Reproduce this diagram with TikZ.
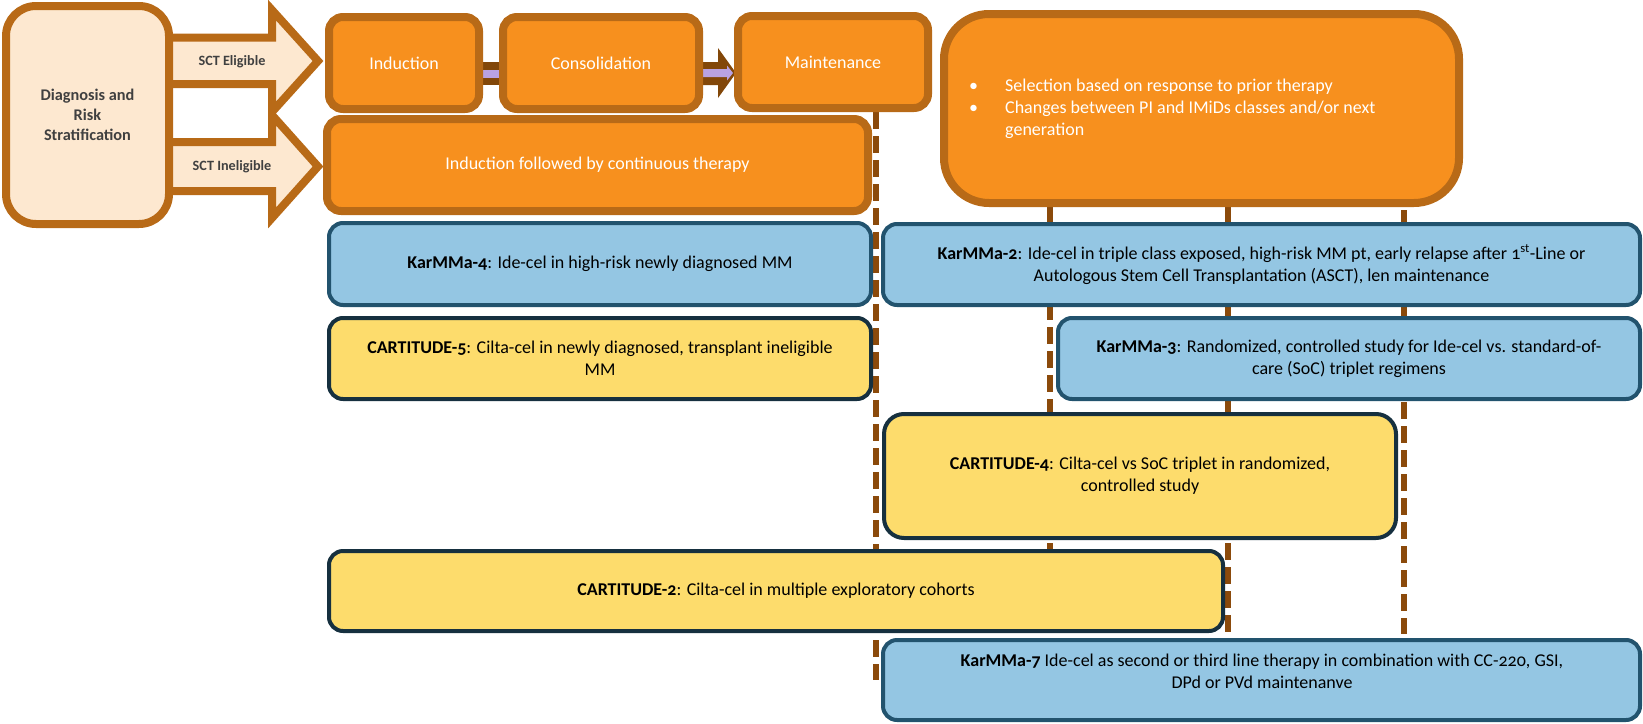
\documentclass[tikz,border=0pt]{standalone}
\usepackage{fontspec}
\setmainfont{Carlito}[Numbers=OldStyle]
\usetikzlibrary{calc}
\pgfdeclarelayer{bg}
\pgfsetlayers{bg,main}
\definecolor{orfill}{HTML}{F7901E}
\definecolor{orline}{HTML}{B86A17}
\definecolor{peach}{HTML}{FDE8D0}
\definecolor{bluefill}{HTML}{94C6E3}
\definecolor{blueline}{HTML}{22536E}
\definecolor{yelfill}{HTML}{FDDC6C}
\definecolor{yelline}{HTML}{16303F}
\definecolor{dashbrown}{HTML}{8B4A0B}
\definecolor{bandbrown}{HTML}{824709}
\definecolor{lilac}{HTML}{B9A2E2}
\definecolor{darktext}{HTML}{404040}
\begin{document}
\begin{tikzpicture}[x=1pt,y=-1pt,
  orbox/.style={draw=orline, fill=orfill, line width=8pt, rounded corners=14pt,
    text=white, font=\fontsize{18}{22}\selectfont, inner sep=0pt, align=center},
  bluebox/.style={draw=blueline, fill=bluefill, line width=4pt, rounded corners=14pt,
    text=black, font=\fontsize{18}{22}\selectfont, inner sep=0pt, align=center},
  yelbox/.style={draw=yelline, fill=yelfill, line width=4pt, rounded corners=14pt,
    text=black, font=\fontsize{18}{22}\selectfont, inner sep=0pt, align=center},
  plaintext/.style={inner sep=0pt, font=\fontsize{18}{22}\selectfont},
  dline/.style={draw=dashbrown, line width=5.5pt, dash pattern=on 17pt off 7pt},
  blockarrow/.style={draw=orline, fill=peach, line width=8pt, line join=miter},
  sctlabel/.style={inner sep=0pt, text=darktext, font=\bfseries\fontsize{14.2}{17}\selectfont}
]
\useasboundingbox (0,0) rectangle (1643,723);

% ---- left part
\node[draw=orline, fill=peach, line width=8pt, rounded corners=30pt,
  minimum width=163pt, minimum height=218pt, inner sep=0pt, align=center,
  text=darktext, font=\bfseries\fontsize{16.3}{20}\selectfont] (diag) at (87.5,115)
  {Diagnosis and\\Risk\\Stratification};

\node[sctlabel] (sct1) at (232,62) {SCT Eligible};
\node[sctlabel] (sct2) at (232,167) {SCT Ineligible};

% ---- orange phase boxes
\node[orbox, minimum width=150pt, minimum height=92pt] (ind) at (404,63) {Induction};
\node[orbox, minimum width=196pt, minimum height=92pt] (con) at (601,63) {Consolidation};
\node[orbox, minimum width=190pt, minimum height=92pt] (mai) at (833,62) {Maintenance};
\node[orbox, minimum width=541pt, minimum height=92pt] (cont) at (597.5,165)
  {Induction followed by continuous therapy};
\node[orbox, rounded corners=45pt, minimum width=515pt, minimum height=189pt] (big) at (1201.5,108.5) {};
\node[inner sep=0pt, anchor=west, align=left, text=white,
  font=\fontsize{18}{22}\selectfont] (bul) at (969,109)
  {\makebox[36pt][l]{\textbullet}Selection based on response to prior therapy\\
   \makebox[36pt][l]{\textbullet}Changes between PI and IMiDs classes and/or next\\
   \hspace*{36pt}generation};

% ---- trial boxes
\node[bluebox, minimum width=542pt, minimum height=82pt] (k4) at (600,264)
  {\textbf{KarMMa-4}: Ide-cel in high-risk newly diagnosed MM};
\node[bluebox, minimum width=757pt, minimum height=81pt] (k2) at (1261.5,264.5)
  {\textbf{KarMMa-2}: Ide-cel in triple class exposed, high-risk MM pt, early relapse after 1\textsuperscript{st}-Line or\\
   Autologous Stem Cell Transplantation (ASCT), len maintenance};
\node[yelbox, minimum width=542pt, minimum height=81pt] (c5) at (600,358.5)
  {\textbf{CARTITUDE-5}: Cilta-cel in newly diagnosed, transplant ineligible\\MM};
\node[bluebox, minimum width=582pt, minimum height=81pt] (k3) at (1349,358.5)
  {\textbf{KarMMa-3}: Randomized, controlled study for Ide-cel vs. standard-of-\\care (SoC) triplet regimens};
\node[yelbox, rounded corners=20pt, minimum width=512pt, minimum height=124pt] (c4) at (1140,476)
  {\textbf{CARTITUDE-4}: Cilta-cel vs SoC triplet in randomized,\\controlled study};
\node[yelbox, minimum width=894pt, minimum height=80pt] (c2) at (776,591)
  {\textbf{CARTITUDE-2}: Cilta-cel in multiple exploratory cohorts};
\node[bluebox, minimum width=757pt, minimum height=80pt] (k7) at (1261.5,680) {};
\node[plaintext, align=center] (k7t) at (1262,671.5)
  {\textbf{KarMMa-7} Ide-cel as second or third line therapy in combination with CC-220, GSI,\\DPd or PVd maintenanve};

% ---- background: block arrows, connectors and dashed lines
\begin{pgfonlayer}{bg}
  \draw[blockarrow] (160,37.5) -- (272,37.5) -- (272,10) -- (318,61) -- (272,112) -- (272,84) -- (160,84) -- cycle;
  \draw[blockarrow] (160,142) -- (272,142) -- (272,115) -- (318,166.5) -- (272,218) -- (272,191) -- (160,191) -- cycle;

  \draw[bandbrown, line width=23pt] ([yshift=-10.5pt]ind.east) -- ([yshift=-10.5pt]con.west);
  \draw[lilac, line width=8pt] ([yshift=-10.5pt]ind.east) -- ([yshift=-10.5pt]con.west);

  \fill[bandbrown] (698,62) -- (718,62) -- (718,48) -- (736,73) -- (718,98) -- (718,85) -- (698,85) -- cycle;
  \fill[lilac] (698,69) -- (727,69) -- (727,65.5) -- (733,73) -- (727,80.5) -- (727,77) -- (698,77) -- cycle;

  \coordinate (e1) at (876,680);
  \coordinate (e3) at (1228,633);
  \coordinate (e4) at (1404,634);
  \draw[dline] (mai.south -| e1) -- (e1);
  \draw[dline] (big.south -| 1050,0) -- (c2.north -| 1050,0);
  \draw[dline] (big.south -| e3) -- (e3);
  \draw[dline] ([yshift=-3pt]big.south -| e4) -- (e4);
\end{pgfonlayer}
\end{tikzpicture}
\end{document}
